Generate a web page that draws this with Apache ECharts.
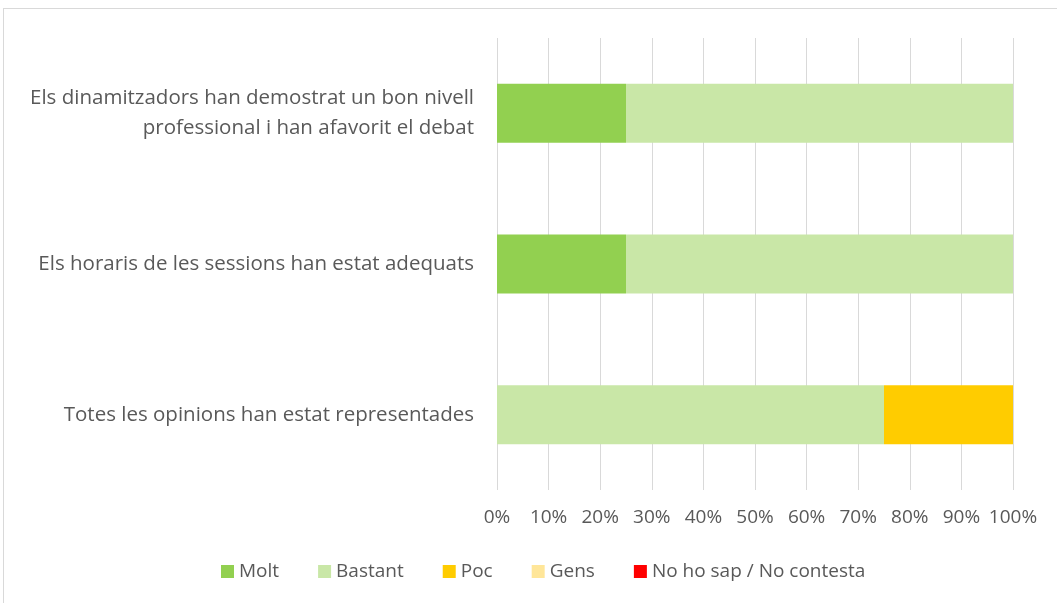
<!DOCTYPE html>
<html><head><meta charset="utf-8">
<script src="https://cdn.jsdelivr.net/npm/echarts@6/dist/echarts.min.js"></script>
<style>
html,body{margin:0;padding:0;background:#fff;}
#frame{position:absolute;left:3px;top:8px;width:1060px;height:600px;border:1px solid #d9d9d9;box-sizing:border-box;}
#c{position:absolute;left:0;top:0;width:1057px;height:603px;}
</style></head><body>
<div id="frame"></div>
<div id="c"></div>
<script>
const categories = [
  "Els dinamitzadors han demostrat un bon nivell\nprofessional i han afavorit el debat",
  "Els horaris de les sessions han estat adequats",
  "Totes les opinions han estat representades"
];
const seriesNames = ["Molt", "Bastant", "Poc", "Gens", "No ho sap / No contesta"];
const molt = [0.25, 0.25, 0];
const bastant = [0.75, 0.75, 0.75];
const poc = [0, 0, 0.25];
const gens = [0, 0, 0];
const nsnc = [0, 0, 0];
const colors = ["#92d050", "#c9e7a7", "#ffcc00", "#ffe699", "#ff0000"];
const values = [molt, bastant, poc, gens, nsnc];
const font = "Open Sans";
const chart = echarts.init(document.getElementById('c'));
chart.setOption({
  animation: false,
  color: colors,
  grid: {left: 497, right: 44, top: 38, bottom: 113},
  legend: {
    bottom: 17, left: 216, itemWidth: 13, itemHeight: 13, itemGap: 39,
    icon: 'rect',
    textStyle: {color: '#595959', fontSize: 19, fontFamily: font},
    data: seriesNames
  },
  xAxis: {
    type: 'value', min: 0, max: 1, interval: 0.1,
    axisLabel: {formatter: v => Math.round(v*100) + '%', color: '#595959', fontSize: 19, fontFamily: font, margin: 18},
    splitLine: {lineStyle: {color: '#d9d9d9', width: 1}},
    axisLine: {show: false}, axisTick: {show: false}
  },
  yAxis: {
    type: 'category', inverse: true, data: categories,
    axisLabel: {color: '#595959', fontSize: 20.5, fontFamily: font, margin: 23, lineHeight: 30, align: 'right'},
    axisLine: {show: false}, axisTick: {show: false}
  },
  series: seriesNames.map((n, i) => ({
    name: n, type: 'bar', stack: 'total', data: values[i], barWidth: 59,
    itemStyle: {color: colors[i]}
  }))
});
</script>
</body></html>
